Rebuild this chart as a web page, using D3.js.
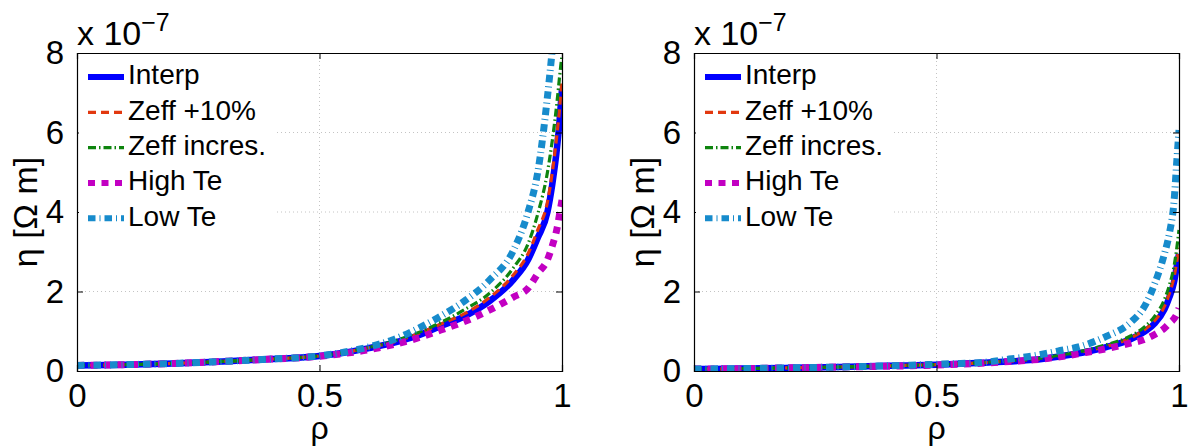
<!doctype html>
<html lang="en">
<head>
<meta charset="utf-8">
<script src="https://cdn.jsdelivr.net/npm/d3@7"></script>
<style>
	body{
		padding:0px;
		margin:0px;
		background:#fff;
	}
	text{
		font-family:"Liberation Sans", Arial, sans-serif;
		fill:#000;
	}
</style>
</head>
<body>
<svg id="chartSvg"></svg>
<script>
// radial grid shared by every curve
var rho = [0, 0.1, 0.2, 0.3, 0.4, 0.5, 0.55, 0.6, 0.65, 0.7, 0.75, 0.8, 0.85, 0.9, 0.93, 0.95, 0.97, 0.98, 0.99, 0.995, 1];

// left panel, eta in units of 1e-7 Ohm m
var interpL = [0.14,0.16,0.19,0.24,0.3,0.38,0.46,0.57,0.7,0.88,1.13,1.38,1.75,2.3,2.8,3.35,4.0,4.7,5.65,6.3,7.1];
var zeffL   = [0.14,0.16,0.19,0.24,0.3,0.38,0.46,0.58,0.72,0.92,1.18,1.45,1.84,2.42,2.95,3.55,4.25,5.0,6.0,6.6,7.35];
var zincL   = [0.14,0.16,0.19,0.24,0.3,0.38,0.47,0.59,0.74,0.95,1.22,1.55,1.95,2.6,3.2,3.95,5.0,5.8,6.8,7.4,7.95];
var highL   = [0.14,0.16,0.19,0.24,0.3,0.37,0.44,0.53,0.66,0.82,1.03,1.25,1.53,1.86,2.08,2.45,2.8,3.15,3.6,3.95,4.3];
var lowL    = [0.14,0.16,0.19,0.24,0.3,0.38,0.47,0.6,0.78,1.05,1.38,1.77,2.28,3.04,4.0,5.0,6.9,8.1,9.5,10.3,11];

// right panel
var interpR = [0.05,0.06,0.08,0.1,0.13,0.16,0.18,0.21,0.24,0.28,0.36,0.46,0.6,0.8,1.0,1.2,1.55,1.85,2.25,2.6,2.95];
var zeffR   = [0.05,0.06,0.08,0.1,0.13,0.16,0.18,0.21,0.25,0.29,0.37,0.48,0.62,0.83,1.05,1.27,1.63,1.95,2.38,2.72,3.1];
var zincR   = [0.05,0.06,0.08,0.1,0.13,0.16,0.18,0.22,0.26,0.3,0.39,0.5,0.66,0.88,1.12,1.38,1.8,2.15,2.65,3.05,3.55];
var highR   = [0.05,0.06,0.08,0.1,0.12,0.15,0.17,0.2,0.24,0.28,0.35,0.45,0.56,0.7,0.8,0.92,1.08,1.2,1.32,1.42,1.58];
var lowR    = [0.05,0.06,0.08,0.1,0.13,0.17,0.19,0.22,0.3,0.38,0.5,0.63,0.87,1.22,1.65,2.2,2.95,3.45,4.3,5.2,6.06];

var names = ["Interp", "Zeff +10%", "Zeff incres.", "High Te", "Low Te"];
var xTicks = [0, 0.5, 1];
var yTicks = [0, 2, 4, 6, 8];

var styles = [
	{color:"#0000ff", width:6.5, dash:null},
	{color:"#e2380f", width:3.2, dash:"8,5"},
	{color:"#0e840e", width:3.2, dash:"8,3,1.5,3"},
	{color:"#c200c2", width:7, dash:"7,6.5"},
	{color:"#178bcc", width:7, dash:"7.5,4,1,4"}
];

var width = 1188, height = 448;
var svg = d3.select("#chartSvg").attr("width", width).attr("height", height);

function drawPanel(left, series, id){
	var right = left + 485;
	var top = 53, bottom = 371;
	var xScale = d3.scaleLinear().domain([0, 1]).range([left, right]);
	var yScale = d3.scaleLinear().domain([0, 8]).range([bottom, top]);
	var g = svg.append("g");

	//grid
	g.selectAll(".gy").data([2, 4, 6]).enter().append("line")
		.attr("x1", left).attr("x2", right)
		.attr("y1", function(d){return yScale(d)}).attr("y2", function(d){return yScale(d)})
		.style("stroke", "#c4c4c4").style("stroke-width", 1).style("stroke-dasharray", "1,3");
	g.append("line")
		.attr("x1", xScale(0.5)).attr("x2", xScale(0.5))
		.attr("y1", top).attr("y2", bottom)
		.style("stroke", "#c4c4c4").style("stroke-width", 1).style("stroke-dasharray", "1,3");

	//curves
	svg.append("clipPath").attr("id", "clip" + id).append("rect")
		.attr("x", left).attr("y", top).attr("width", right - left).attr("height", bottom - top);
	var line = d3.line()
		.x(function(d, i){return xScale(rho[i])})
		.y(function(d){return yScale(d)})
		.curve(d3.curveMonotoneX);
	var cg = g.append("g").attr("clip-path", "url(#clip" + id + ")");
	for(var i=0;i<series.length;i++){
		cg.append("path")
			.attr("d", line(series[i]))
			.attr("fill", "none")
			.style("stroke", styles[i].color)
			.style("stroke-width", styles[i].width)
			.style("stroke-dasharray", styles[i].dash);
	}

	//axes with inward ticks on all sides
	g.append("g").attr("transform", "translate(0," + bottom + ")")
		.call(d3.axisBottom(xScale).tickValues(xTicks).tickSize(-6).tickPadding(13).tickFormat(d3.format("")));
	g.append("g").attr("transform", "translate(0," + top + ")")
		.call(d3.axisTop(xScale).tickValues(xTicks).tickSize(-6).tickFormat(""));
	g.append("g").attr("transform", "translate(" + left + ",0)")
		.call(d3.axisLeft(yScale).tickValues(yTicks).tickSize(-6).tickPadding(13));
	g.append("g").attr("transform", "translate(" + right + ",0)")
		.call(d3.axisRight(yScale).tickValues(yTicks).tickSize(-6).tickFormat(""));
	g.selectAll(".domain").style("stroke", "#000").style("stroke-width", 1.2);
	g.selectAll(".tick line").style("stroke", "#000");
	g.selectAll(".tick text").style("font-size", "33px").style("font-family", "'Liberation Sans', Arial, sans-serif").attr("fill", "#000");

	//exponent
	var ex = g.append("text").attr("x", left).attr("y", 45).style("font-size", "34px");
	ex.append("tspan").text("x 10");
	ex.append("tspan").attr("dy", -14).style("font-size", "25px").text("\u22127");

	//axis labels
	g.append("text")
		.attr("x", xScale(0.5)).attr("y", 439)
		.attr("text-anchor", "middle")
		.style("font-size", "32px")
		.text("\u03c1");
	g.append("text")
		.attr("transform", "translate(" + (left - 40) + "," + ((top + bottom) / 2) + ") rotate(-90)")
		.attr("text-anchor", "middle")
		.style("font-size", "34px")
		.text("\u03b7 [\u03a9 m]");

	//legend
	var lg = g.append("g");
	lg.append("rect")
		.attr("x", left + 2).attr("y", top + 2).attr("width", 198).attr("height", 182)
		.attr("fill", "#fff");
	for(var i=0;i<names.length;i++){
		var ly = 77 + i * 35.3;
		lg.append("line")
			.attr("x1", left + 11).attr("x2", left + 47)
			.attr("y1", ly).attr("y2", ly)
			.style("stroke", styles[i].color)
			.style("stroke-width", Math.min(styles[i].width, 6))
			.style("stroke-dasharray", styles[i].dash);
		lg.append("text")
			.attr("x", left + 51).attr("y", ly)
			.attr("dominant-baseline", "middle")
			.style("font-size", "28px")
			.text(names[i]);
	}
}

drawPanel(77, [interpL, zeffL, zincL, highL, lowL], "L");
drawPanel(694, [interpR, zeffR, zincR, highR, lowR], "R");
</script>
</body>
</html>
